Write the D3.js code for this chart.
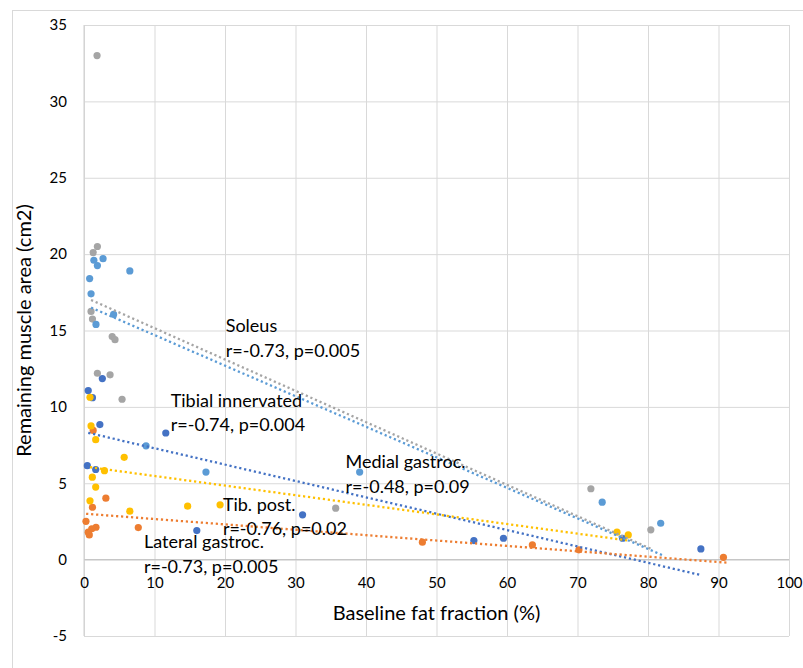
<!DOCTYPE html>
<meta charset="utf-8">
<style>
    body { margin: 0; background: #fff; }
    text {
        font-family: Lato, "Open Sans", sans-serif;
        fill: #000;
    }
    .grid line { stroke: #d9d9d9; stroke-width: 1px; }
    .tick text { font-size: 15px; }
    .trend { fill: none; stroke-width: 2.3px; stroke-dasharray: 2.2, 2.8; }
    .note { font-size: 18px; }
</style>
<body>
    <svg width="803" height="668"></svg>
</body>
<script src="https://d3js.org/d3.v7.min.js"></script>
<script>

    // measured points [baseline fat fraction %, remaining muscle area cm2]
    var tibialInnervated = [[2.6,11.85],[0.6,11.07],[1.2,10.6],[2.25,8.84],[11.6,8.29],[0.47,6.15],
        [1.66,5.9],[16.0,1.9],[31.0,2.93],[55.3,1.25],[59.5,1.4],[76.4,1.4],[87.5,0.7]];
    var lateralGastroc = [[1.3,8.46],[3.1,4.02],[1.2,3.43],[0.28,2.51],[1.7,2.12],[1.1,2.02],
        [0.6,1.8],[0.75,1.62],[7.7,2.1],[48.0,1.14],[63.6,0.96],[70.2,0.64],[90.7,0.15]];
    var soleus = [[1.85,33.0],[1.9,20.5],[1.3,20.1],[1.0,16.25],[1.2,15.75],[4.0,14.6],[4.4,14.4],
        [1.9,12.2],[3.7,12.1],[5.4,10.5],[35.7,3.37],[71.9,4.64],[80.4,1.95]];
    var tibPost = [[0.85,10.63],[1.0,8.75],[1.66,7.85],[5.7,6.7],[2.9,5.82],[1.18,5.4],[1.66,4.75],
        [0.85,3.85],[6.5,3.17],[14.7,3.5],[19.3,3.59],[75.6,1.8],[77.2,1.62]];
    var medialGastroc = [[1.4,19.6],[2.7,19.7],[1.9,19.25],[6.5,18.9],[0.8,18.4],[1.0,17.4],[4.2,16.05],
        [1.7,15.4],[8.8,7.45],[17.3,5.73],[39.1,5.73],[73.5,3.76],[81.8,2.38]];

    // trendline ends
    var trendTibial  = [[0.6,8.3],[87.4,-1.0]];
    var trendLateral = [[0.3,3.0],[91.2,-0.2]];
    var trendSoleus  = [[1.0,17.0],[80.7,0.65]];
    var trendTibPost = [[0.85,6.05],[77.2,1.25]];
    var trendMedial  = [[1.0,16.5],[82.0,0.3]];

    var seriesNames = ["Tibial innervated", "Lateral gastroc.", "Soleus", "Tib. post.", "Medial gastroc."];
    var seriesStats = ["r=-0.74, p=0.004", "r=-0.73, p=0.005", "r=-0.73, p=0.005", "r=-0.76, p=0.02", "r=-0.48, p=0.09"];
    var seriesColors = ["#4472c4", "#ed7d31", "#a5a5a5", "#ffc000", "#5b9bd5"];

    var xTicks = [0,10,20,30,40,50,60,70,80,90,100];
    var yTicks = [-5,0,5,10,15,20,25,30,35];

    var series = [
        {name: seriesNames[0], stat: seriesStats[0], color: seriesColors[0], points: tibialInnervated, trend: trendTibial,  label: [12.3, 10.0]},
        {name: seriesNames[1], stat: seriesStats[1], color: seriesColors[1], points: lateralGastroc,   trend: trendLateral, label: [8.5, 0.74]},
        {name: seriesNames[2], stat: seriesStats[2], color: seriesColors[2], points: soleus,           trend: trendSoleus,  label: [20.1, 14.9]},
        {name: seriesNames[3], stat: seriesStats[3], color: seriesColors[3], points: tibPost,          trend: trendTibPost, label: [19.7, 3.2]},
        {name: seriesNames[4], stat: seriesStats[4], color: seriesColors[4], points: medialGastroc,    trend: trendMedial,  label: [37.1, 5.97]}
    ];

    var svg = d3.select("svg");

    var x = d3.scaleLinear().domain([0, 100]).range([84, 789]);
    var y = d3.scaleLinear().domain([-5, 35]).range([636, 25]);

    // outer chart frame
    svg.append("rect")
        .attr("x", 12.5).attr("y", 10.5)
        .attr("width", 820).attr("height", 700)
        .attr("fill", "#fff")
        .attr("stroke", "#d9d9d9");

    // grid
    svg.append("g")
        .attr("class", "grid")
        .attr("transform", "translate(0," + y(-5) + ")")
        .call(d3.axisBottom(x).tickValues(xTicks).tickSize(-(y(-5) - y(35))).tickFormat(""))
        .call(function (g) { g.select(".domain").remove(); });
    svg.append("g")
        .attr("class", "grid")
        .attr("transform", "translate(" + x(0) + ",0)")
        .call(d3.axisLeft(y).tickValues(yTicks).tickSize(-(x(100) - x(0))).tickFormat(""))
        .call(function (g) { g.select(".domain").remove(); });

    // axis lines
    svg.append("line")
        .attr("x1", x(0)).attr("x2", x(100))
        .attr("y1", y(0)).attr("y2", y(0))
        .attr("stroke", "#bfbfbf");
    svg.append("line")
        .attr("x1", x(0)).attr("x2", x(0))
        .attr("y1", y(35)).attr("y2", y(-5))
        .attr("stroke", "#cfcfcf");

    // tick labels (plain hyphen for negatives, like the original)
    var plain = function (d) { return String(d); };

    var xAxis = svg.append("g")
        .attr("transform", "translate(0," + y(0) + ")")
        .call(d3.axisBottom(x).tickValues(xTicks).tickSize(0).tickPadding(18).tickFormat(plain));
    xAxis.select(".domain").remove();

    var yAxis = svg.append("g")
        .attr("transform", "translate(" + (x(0) - 17) + ",0)")
        .call(d3.axisLeft(y).tickValues(yTicks).tickSize(0).tickPadding(0).tickFormat(plain));
    yAxis.select(".domain").remove();

    svg.selectAll(".tick text").attr("font-family", null).style("font-size", "15px");

    // axis titles
    svg.append("text")
        .attr("x", (x(0) + x(100)) / 2)
        .attr("y", 620)
        .attr("text-anchor", "middle")
        .style("font-size", "20px")
        .text("Baseline fat fraction (%)");

    svg.append("text")
        .attr("transform", "translate(31," + ((y(35) + y(-5)) / 2) + ") rotate(-90)")
        .attr("text-anchor", "middle")
        .style("font-size", "20px")
        .text("Remaining muscle area (cm2)");

    // points
    series.forEach(function (s) {
        svg.append("g").selectAll("circle")
            .data(s.points)
            .enter().append("circle")
            .attr("cx", function (d) { return x(d[0]); })
            .attr("cy", function (d) { return y(d[1]); })
            .attr("r", 3.6)
            .attr("fill", s.color);
    });

    // trendlines
    var line = d3.line()
        .x(function (d) { return x(d[0]); })
        .y(function (d) { return y(d[1]); });
    series.forEach(function (s) {
        svg.append("path")
            .attr("class", "trend")
            .attr("stroke", s.color)
            .attr("d", line(s.trend));
    });

    // labels
    series.forEach(function (s) {
        var t = svg.append("text")
            .attr("class", "note")
            .attr("x", x(s.label[0]))
            .attr("y", y(s.label[1]));
        t.append("tspan").text(s.name);
        t.append("tspan")
            .attr("x", x(s.label[0]))
            .attr("dy", 24.5)
            .text(s.stat);
    });
</script>
